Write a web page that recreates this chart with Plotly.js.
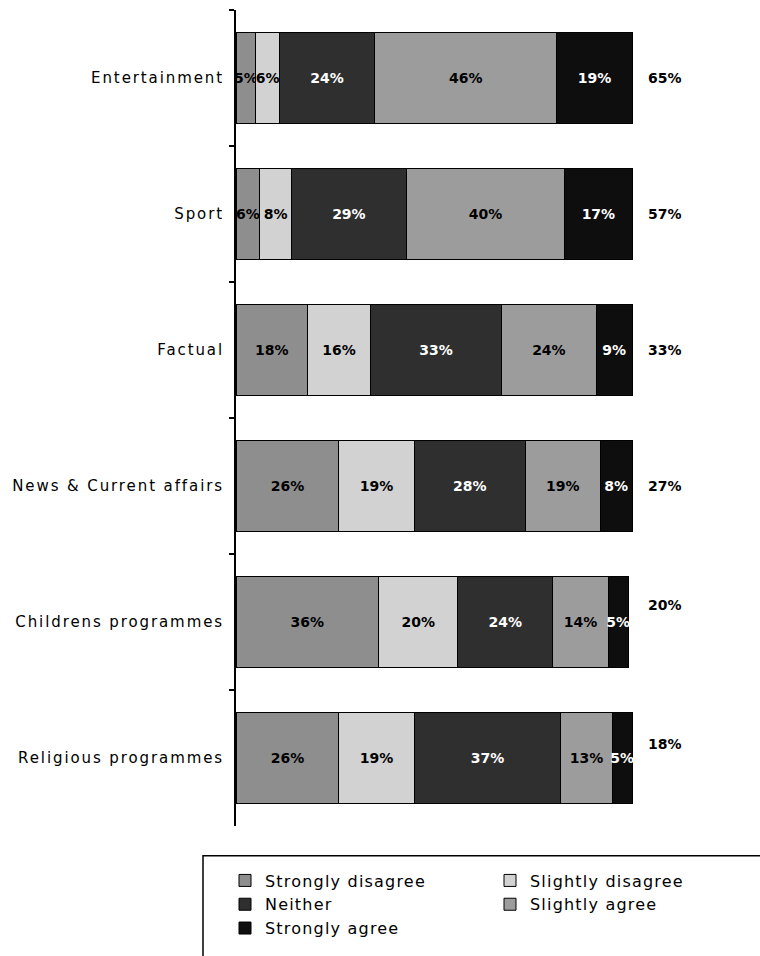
<!DOCTYPE html>
<html>
<head>
<meta charset="utf-8">
<script src="https://cdn.plot.ly/plotly-3.0.1.min.js"></script>
<style>
  html, body { margin: 0; padding: 0; background: #fff; }
  #chart { width: 760px; height: 956px; }
  .ytick text { letter-spacing: 1.9px; }
  .legendtext { letter-spacing: 1.2px; }
</style>
</head>
<body>
<div id="chart"></div>
<script>
// Programme genres, top to bottom
const genres = [
  'Entertainment',
  'Sport',
  'Factual',
  'News & Current affairs',
  'Childrens programmes',
  'Religious programmes'
];

// Share of respondents (%) per answer
const stronglyDisagree = [5, 6, 18, 26, 36, 26];
const slightlyDisagree = [6, 8, 16, 19, 20, 19];
const neither          = [24, 29, 33, 28, 24, 37];
const slightlyAgree    = [46, 40, 24, 19, 14, 13];
const stronglyAgree    = [19, 17, 9, 8, 5, 5];

// Net agreement printed to the right of each bar
const netAgree = [65, 57, 33, 27, 20, 18];

const answerNames = ['Strongly disagree', 'Slightly disagree', 'Neither', 'Slightly agree', 'Strongly agree'];
const answerValues = [stronglyDisagree, slightlyDisagree, neither, slightlyAgree, stronglyAgree];

// Greyscale fills and matching label colours
const fills = ['#8e8e8e', '#d2d2d2', '#2f2f2f', '#9c9c9c', '#0e0e0e'];
const labelColours = ['#000000', '#000000', '#ffffff', '#000000', '#ffffff'];

const traces = answerValues.map((vals, i) => ({
  type: 'bar',
  orientation: 'h',
  name: answerNames[i],
  y: genres,
  x: vals,
  text: vals.map(v => v + '%'),
  textposition: 'inside',
  insidetextanchor: 'middle',
  textangle: 0,
  constraintext: 'none',
  insidetextfont: { family: 'DejaVu Sans', size: 14, color: labelColours[i], weight: 'bold' },
  marker: { color: fills[i], line: { color: '#000', width: 1 } },
  hoverinfo: 'skip'
}));

// Small vertical nudges (px, upward) for the last two side labels
const sideLabelShift = [0, 0, 0, 0, 17, 14];

const annotations = genres.map((g, i) => ({
  xref: 'paper', yref: 'y',
  x: 1.072, y: g,
  yshift: sideLabelShift[i],
  text: '<b>' + netAgree[i] + '%</b>',
  showarrow: false,
  xanchor: 'center',
  font: { family: 'DejaVu Sans', size: 14, color: '#000' }
}));

const layout = {
  width: 760,
  height: 956,
  margin: { l: 236, r: 124, t: 10, b: 126 },
  paper_bgcolor: '#fff',
  plot_bgcolor: '#fff',
  barmode: 'stack',
  bargap: 0.33,
  font: { family: 'DejaVu Sans', color: '#000' },
  xaxis: {
    range: [0, 101],
    visible: false,
    fixedrange: true
  },
  yaxis: {
    type: 'category',
    autorange: 'reversed',
    showline: true,
    linecolor: '#000',
    linewidth: 2,
    ticks: 'outside',
    tickson: 'boundaries',
    ticklen: 5,
    tickwidth: 2,
    tickcolor: '#000',
    ticklabelstandoff: 7,
    showgrid: false,
    zeroline: false,
    tickfont: { family: 'DejaVu Sans', size: 15, color: '#000' },
    fixedrange: true
  },
  showlegend: true,
  legend: {
    orientation: 'h',
    x: -0.0275,
    xanchor: 'left',
    y: -0.046,
    yanchor: 'top',
    entrywidth: 220,
    traceorder: 'normal',
    font: { family: 'DejaVu Sans', size: 16, color: '#000' },
    bgcolor: 'rgba(0,0,0,0)',
    borderwidth: 0
  },
  shapes: [{
    type: 'rect',
    xref: 'paper', yref: 'paper',
    x0: -0.0825, x1: 1.4,
    y0: -0.0366, y1: -0.2,
    line: { color: '#000', width: 1.5 },
    fillcolor: 'rgba(0,0,0,0)'
  }],
  annotations: annotations
};

Plotly.newPlot('chart', traces, layout, { displayModeBar: false, staticPlot: true });
</script>
</body>
</html>
